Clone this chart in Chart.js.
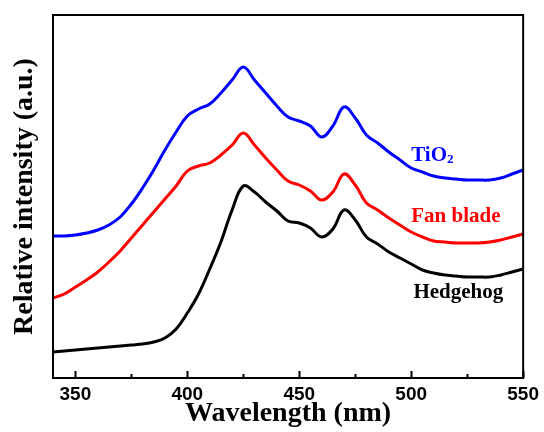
<!DOCTYPE html>
<html>
<head>
<meta charset="utf-8">
<script src="https://cdn.jsdelivr.net/npm/chart.js@4"></script>
<style>
  html, body { margin: 0; padding: 0; background: #fff; }
  canvas { display: block; }
</style>
</head>
<body>
<canvas id="myChart" width="544" height="432"></canvas>
<script>
const wavelengths = [340, 345, 350, 355, 360, 365, 370, 375, 380, 385, 390, 395, 400, 405, 410, 415, 420, 425, 430, 435, 440, 445, 450, 455, 460, 465, 470, 475, 480, 485, 490, 495, 500, 505, 510, 515, 520, 525, 530, 535, 540, 545, 550];

const tio2 = [142, 142, 143, 145, 148, 153, 161, 174, 190, 208, 228, 246, 262, 269, 274, 285, 298, 311, 298, 285, 272, 261, 257, 252, 241, 252, 271, 260, 243, 235, 226, 218, 210, 206, 202, 200, 199, 198, 198, 198, 200, 204, 208];
const fanBlade = [80, 84, 91, 98, 106, 116, 127, 140, 153, 166, 179, 192, 207, 212, 215, 223, 233, 245, 233, 220, 208, 197, 193, 187, 178, 186, 204, 193, 175, 168, 160, 153, 146, 141, 137, 136, 135, 135, 135, 136, 138, 141, 144];
const hedgehog = [26, 27, 28, 29, 30, 31, 32, 33, 34, 36, 40, 49, 65, 84, 109, 136, 168, 192, 186, 176, 167, 157, 155, 150, 141, 149, 168, 158, 141, 134, 126, 120, 114, 108, 105, 103, 102, 101, 101, 101, 103, 106, 109];

const majorTicks = [350, 400, 450, 500, 550];
const minorTicks = [375, 425, 475, 525];

// curve labels, placed in data units
const labelNames = ["TiO", "Fan blade", "Hedgehog"];
const labelColors = ["#0000ff", "#ff0000", "#000000"];
const labelX = [500, 500, 501];
const labelY = [217, 156, 80];

const serif = "'Liberation Serif', 'Times New Roman', serif";
const sans = "'Liberation Sans', Arial, sans-serif";

const myChart = document.getElementById("myChart");

function toPoints(values) {
    return wavelengths.map((w, i) => ({ x: w, y: values[i] }));
}

const frameAndTicks = {
    id: "frameAndTicks",
    afterDraw(chart) {
        const ctx = chart.ctx;
        const area = chart.chartArea;
        const xs = chart.scales.x;
        ctx.save();
        ctx.strokeStyle = "#000";
        ctx.lineWidth = 2;
        ctx.strokeRect(area.left, area.top, area.right - area.left, area.bottom - area.top);

        ctx.beginPath();
        for (let t of majorTicks) {
            const px = Math.round(xs.getPixelForValue(t)) + 0.5;
            ctx.moveTo(px, area.bottom);
            ctx.lineTo(px, area.bottom - 7);
        }
        for (let t of minorTicks) {
            const px = Math.round(xs.getPixelForValue(t)) + 0.5;
            ctx.moveTo(px, area.bottom);
            ctx.lineTo(px, area.bottom - 4);
        }
        ctx.stroke();

        // curve labels
        const ys = chart.scales.y;
        ctx.textBaseline = "alphabetic";
        ctx.textAlign = "left";
        for (let i = 0; i < labelNames.length; i++) {
            const px = xs.getPixelForValue(labelX[i]);
            const py = ys.getPixelForValue(labelY[i]);
            ctx.fillStyle = labelColors[i];
            ctx.font = "bold 21px " + serif;
            ctx.fillText(labelNames[i], px, py);
            if (i == 0) {
                const w = ctx.measureText(labelNames[i]).width;
                ctx.font = "bold 13px " + serif;
                ctx.fillText("2", px + w, py + 2);
            }
        }
        ctx.restore();
    }
};

const config = {
    type: "line",
    data: {
        datasets: [
            {
                label: "TiO2",
                data: toPoints(tio2),
                borderColor: "#0000ff",
            },
            {
                label: "Fan blade",
                data: toPoints(fanBlade),
                borderColor: "#ff0000",
            },
            {
                label: "Hedgehog",
                data: toPoints(hedgehog),
                borderColor: "#000000",
            },
        ],
    },
    options: {
        responsive: false,
        animation: false,
        elements: {
            point: { radius: 0 },
            line: { borderWidth: 3, tension: 0.4, fill: false, borderJoinStyle: "round", borderCapStyle: "round" },
        },
        layout: { padding: { top: 15, right: 17, left: 0, bottom: 0 } },
        plugins: {
            legend: { display: false },
            tooltip: { enabled: false },
        },
        scales: {
            x: {
                type: "linear",
                min: 340,
                max: 550,
                afterBuildTicks: (scale) => {
                    scale.ticks = majorTicks.map((v) => ({ value: v }));
                },
                afterFit: (scale) => {
                    scale.height = 54;
                },
                grid: { display: false, drawTicks: false },
                border: { display: false },
                ticks: {
                    color: "#000",
                    padding: 5,
                    maxRotation: 0,
                    autoSkip: false,
                    font: { family: sans, weight: "bold", size: 19 },
                },
                title: {
                    display: true,
                    text: "Wavelength (nm)",
                    color: "#000",
                    padding: { top: 0, bottom: 1 },
                    font: { family: serif, weight: "bold", size: 28 },
                },
            },
            y: {
                min: 0,
                max: 363,
                afterFit: (scale) => {
                    scale.width = 53;
                },
                grid: { display: false, drawTicks: false },
                border: { display: false },
                ticks: { display: false },
                title: {
                    display: true,
                    text: "Relative intensity (a.u.)",
                    color: "#000",
                    padding: { top: 8, bottom: 0 },
                    font: { family: serif, weight: "bold", size: 28 },
                },
            },
        },
    },
    plugins: [frameAndTicks],
};

new Chart(myChart, config);
</script>
</body>
</html>
